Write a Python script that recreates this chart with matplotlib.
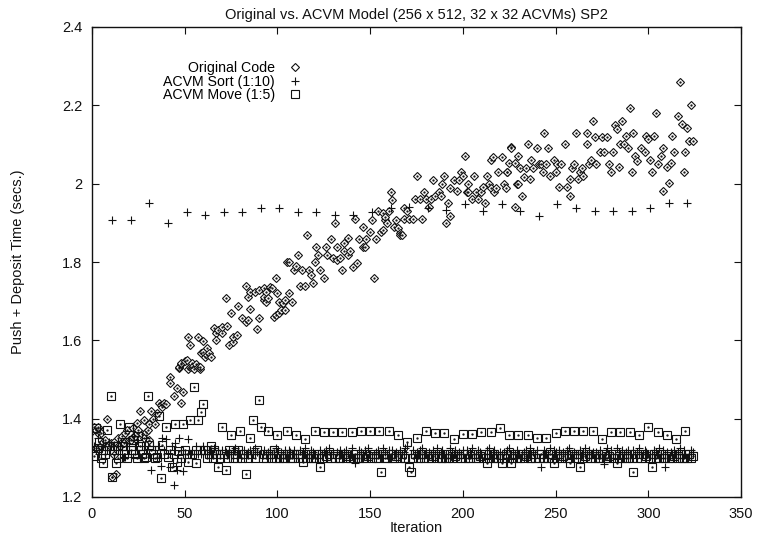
import matplotlib
matplotlib.use('Agg')
import matplotlib.pyplot as plt

plt.rcParams['font.family'] = ['Liberation Sans', 'DejaVu Sans']

title = "Original vs. ACVM Model (256 x 512, 32 x 32 ACVMs) SP2"
x_label = "Iteration"
y_label = "Push + Deposit Time (secs.)"
series_names = ["Original Code", "ACVM Sort (1:10)", "ACVM Move (1:5)"]
x_ticks = [0, 50, 100, 150, 200, 250, 300, 350]
y_ticks = [1.2, 1.4, 1.6, 1.8, 2.0, 2.2, 2.4]
y_tick_labels = ["1.2", "1.4", "1.6", "1.8", "2", "2.2", "2.4"]

# Original code: (iteration, time)
orig_iter = [0, 1, 2, 2, 3, 3, 4, 5, 5, 6, 7, 8, 9, 10, 11, 12, 12, 13, 14, 15,
             16, 17, 18, 19, 20, 21, 22, 22, 23, 24, 24, 25, 26, 27, 28, 28, 29, 30, 31, 31,
             32, 33, 34, 35, 36, 37, 38, 39, 40,
             42, 42, 44, 46, 47, 47, 48, 48, 48, 49, 50, 51, 52, 52, 53, 53, 54, 54, 55, 56,
             57, 57, 58, 58, 59, 60, 60, 61, 62, 62, 63, 64,
             66, 67, 67, 68, 70, 70, 72, 73, 74, 75, 76, 76, 78, 79, 81, 83, 83, 84, 84, 85,
             85, 88, 89, 90, 90, 93, 93, 93, 94, 94, 95, 96, 97, 98, 99, 99, 100, 101, 101, 102,
             103, 104, 104, 105, 106, 106, 108, 109, 110, 111, 112, 113, 115, 116, 117, 118, 119, 120, 121, 122,
             123, 125, 126, 127, 129, 130, 131,
             132, 132, 134, 135, 136, 136, 138, 138, 139, 141, 142, 143, 144, 146, 146, 147, 148, 150, 151, 152,
             153, 154, 156, 157, 157, 158, 158, 159, 160,
             161, 162, 163, 164, 165, 166, 166, 167, 168, 168, 170, 171, 173, 174, 175, 177, 178, 179, 180, 182,
             183, 184, 185, 187, 188, 189, 190, 191, 192, 193, 193, 195, 197, 198, 199, 200,
             201, 202, 203, 203, 205, 206, 207, 208, 210, 211, 212, 213, 214, 215, 215, 216, 217, 218, 219, 221,
             222, 223, 224, 224, 225, 226, 226, 228, 228, 229, 230, 230,
             231, 232, 233, 234, 235, 236, 237, 238, 240, 241, 242, 243, 244, 245, 246, 247, 249, 250, 251, 252,
             253, 255, 256, 258, 258, 259, 260,
             261, 262, 263, 264, 265, 267, 267, 268, 269, 270, 271, 272, 274, 275, 276, 278, 279, 280, 281, 282,
             283, 284, 285, 286, 287, 288, 289,
             290, 291, 292, 293, 294, 296, 298, 299, 300, 301, 302, 303, 304, 305, 307, 308, 308, 310, 311, 312,
             313, 314, 316, 317, 318, 319, 320, 321, 322, 323, 324]
orig_time = [1.369, 1.38, 1.37, 1.324, 1.375, 1.38, 1.36, 1.363, 1.33, 1.34,
             1.346, 1.398, 1.333, 1.337, 1.252, 1.341, 1.307, 1.26, 1.35, 1.329,
             1.356, 1.337, 1.363, 1.371, 1.346, 1.345, 1.377, 1.354, 1.355, 1.363,
             1.39, 1.371, 1.42, 1.36, 1.397, 1.35, 1.365, 1.37, 1.386, 1.346,
             1.42, 1.40, 1.386, 1.415, 1.439, 1.435, 1.429, 1.44, 1.437,
             1.507, 1.49, 1.459, 1.479, 1.529, 1.533, 1.439, 1.539, 1.541, 1.469,
             1.548, 1.55, 1.609, 1.527, 1.533, 1.588, 1.541, 1.533, 1.527, 1.539,
             1.533, 1.609, 1.527, 1.533, 1.567, 1.599, 1.569, 1.558, 1.563, 1.58,
             1.567, 1.558,
             1.631, 1.618, 1.601, 1.626, 1.618, 1.635, 1.707, 1.637, 1.588, 1.669,
             1.597, 1.609, 1.614, 1.688, 1.656, 1.648, 1.739, 1.652, 1.711, 1.679,
             1.724, 1.724, 1.628, 1.656, 1.728, 1.733, 1.703, 1.711, 1.724, 1.699,
             1.707, 1.737, 1.733, 1.66, 1.758, 1.665, 1.72, 1.669, 1.699, 1.677,
             1.695, 1.677, 1.703, 1.801, 1.72, 1.801, 1.699, 1.78, 1.79, 1.818,
             1.739, 1.78, 1.739, 1.869, 1.78, 1.767, 1.747, 1.801, 1.839, 1.818,
             1.78, 1.758, 1.839, 1.818, 1.858, 1.81, 1.899,
             1.805, 1.838, 1.81, 1.78, 1.829, 1.848, 1.861, 1.818, 1.829, 1.788,
             1.909, 1.798, 1.858, 1.839, 1.889, 1.838, 1.858, 1.877, 1.907, 1.758,
             1.858, 1.929, 1.877, 1.924, 1.882, 1.906, 1.916, 1.899, 1.929,
             1.98, 1.958, 1.89, 1.907, 1.886, 1.873, 1.869, 1.869, 1.937, 1.909,
             1.929, 1.911, 1.911, 1.96, 2.02, 1.96, 1.909, 1.98, 1.96, 1.941,
             1.96, 2.009, 1.968, 1.98, 1.968, 1.999, 2.02, 1.899, 1.95, 1.918,
             1.988, 2.009, 1.982, 2.009, 2.03, 2.02,
             2.071, 1.98, 1.999, 1.98, 1.96, 2.02, 1.98, 1.96, 1.98, 1.992,
             1.95, 2.02, 1.999, 1.988, 2.06, 2.069, 1.98, 1.988, 2.03, 2.069,
             1.999, 1.988, 2.03, 2.031, 2.052, 2.093, 2.09, 1.94, 2.052, 1.999,
             1.999, 2.071,
             2.039, 1.969, 2.018, 2.039, 2.101, 2.011, 2.061, 2.039, 2.09, 2.05,
             2.05, 2.031, 2.13, 2.05, 2.09, 2.02, 2.061, 2.031, 2.05, 1.991,
             2.05, 2.101, 1.991, 1.969, 2.011, 2.039, 2.05,
             2.13, 2.011, 2.031, 2.039, 2.02, 2.13, 2.101, 2.05, 2.061, 2.161,
             2.12, 2.05, 2.082, 2.12, 2.082, 2.12, 2.05, 2.031, 2.082, 2.15,
             2.139, 2.042, 2.101, 2.161, 2.101, 2.122, 2.09,
             2.192, 2.031, 2.13, 2.071, 2.059, 2.09, 2.082, 2.122, 2.113, 2.06,
             2.031, 2.122, 2.181, 2.05, 2.071, 2.09, 1.982, 2.042, 2.001, 2.052,
             2.122, 2.082, 2.173, 2.26, 2.152, 2.031, 2.082, 2.141, 2.11, 2.2,
             2.11]

# ACVM Sort (1:10): one value per iteration 1..324 (sort every 10th iteration)
sort_time = [1.33, 1.32, 1.35, 1.31, 1.32, 1.33, 1.31, 1.32, 1.34, 1.33,
             1.907, 1.33, 1.32, 1.34, 1.33, 1.32, 1.303, 1.303, 1.33, 1.32,
             1.907, 1.303, 1.33, 1.32, 1.34, 1.303, 1.33, 1.32, 1.35, 1.33,
             1.95, 1.269, 1.33, 1.32, 1.299, 1.33, 1.278, 1.35, 1.32, 1.347,
             1.90, 1.277, 1.33, 1.231, 1.339, 1.269, 1.35, 1.32, 1.267, 1.31,
             1.928, 1.347, 1.31, 1.32, 1.31, 1.33, 1.31, 1.32, 1.31, 1.33,
             1.92, 1.31, 1.32, 1.315, 1.31, 1.325, 1.31, 1.32, 1.31, 1.32,
             1.928, 1.315, 1.31, 1.32, 1.31, 1.315, 1.325, 1.31, 1.32, 1.31,
             1.928, 1.32, 1.31, 1.315, 1.32, 1.31, 1.31, 1.325, 1.315, 1.31,
             1.938, 1.31, 1.32, 1.31, 1.315, 1.32, 1.31, 1.31, 1.325, 1.315,
             1.938, 1.315, 1.31, 1.32, 1.31, 1.32, 1.315, 1.31, 1.32, 1.31,
             1.928, 1.32, 1.31, 1.315, 1.325, 1.31, 1.31, 1.32, 1.315, 1.31,
             1.928, 1.31, 1.32, 1.31, 1.315, 1.32, 1.31, 1.325, 1.31, 1.315,
             1.92, 1.315, 1.31, 1.32, 1.31, 1.315, 1.32, 1.31, 1.31, 1.325,
             1.92, 1.288, 1.31, 1.32, 1.315, 1.31, 1.32, 1.31, 1.325, 1.31,
             1.928, 1.31, 1.315, 1.32, 1.31, 1.31, 1.325, 1.315, 1.31, 1.32,
             1.938, 1.32, 1.31, 1.315, 1.31, 1.32, 1.31, 1.315, 1.325, 1.33,
             1.94, 1.31, 1.32, 1.31, 1.315, 1.31, 1.32, 1.325, 1.31, 1.315,
             1.938, 1.315, 1.31, 1.32, 1.31, 1.325, 1.31, 1.315, 1.32, 1.31,
             1.933, 1.31, 1.325, 1.315, 1.31, 1.32, 1.31, 1.315, 1.31, 1.32,
             1.948, 1.32, 1.31, 1.315, 1.325, 1.31, 1.31, 1.32, 1.315, 1.31,
             1.93, 1.31, 1.32, 1.325, 1.31, 1.315, 1.32, 1.31, 1.31, 1.315,
             1.948, 1.315, 1.31, 1.32, 1.325, 1.31, 1.315, 1.31, 1.32, 1.31,
             1.93, 1.31, 1.315, 1.32, 1.31, 1.325, 1.31, 1.315, 1.31, 1.32,
             1.917, 1.276, 1.31, 1.32, 1.315, 1.31, 1.325, 1.31, 1.32, 1.315,
             1.948, 1.32, 1.31, 1.315, 1.31, 1.32, 1.325, 1.31, 1.31, 1.315,
             1.938, 1.31, 1.32, 1.31, 1.315, 1.325, 1.31, 1.32, 1.31, 1.315,
             1.93, 1.315, 1.31, 1.32, 1.31, 1.284, 1.315, 1.325, 1.31, 1.32,
             1.93, 1.31, 1.325, 1.315, 1.31, 1.32, 1.31, 1.315, 1.32, 1.31,
             1.93, 1.32, 1.31, 1.315, 1.325, 1.31, 1.31, 1.32, 1.315, 1.31,
             1.938, 1.31, 1.32, 1.315, 1.31, 1.325, 1.31, 1.32, 1.276, 1.315,
             1.95, 1.315, 1.31, 1.32, 1.31, 1.315, 1.325, 1.31, 1.32, 1.31,
             1.95, 1.31, 1.32, 1.315]

# ACVM Move (1:5): one value per iteration 1..324
move_time = [1.305, 1.375, 1.324, 1.34, 1.30, 1.286, 1.31, 1.37, 1.33, 1.458,
             1.252, 1.32, 1.288, 1.30, 1.386, 1.33, 1.31, 1.34, 1.30, 1.38,
             1.32, 1.346, 1.31, 1.30, 1.356, 1.33, 1.31, 1.299, 1.303, 1.458,
             1.333, 1.32, 1.31, 1.30, 1.303, 1.408, 1.248, 1.333, 1.31, 1.378,
             1.301, 1.32, 1.276, 1.31, 1.386, 1.29, 1.318, 1.30, 1.386, 1.32,
             1.31, 1.29, 1.397, 1.31, 1.48, 1.288, 1.397, 1.32, 1.418, 1.437,
             1.32, 1.30, 1.31, 1.33, 1.30, 1.32, 1.31, 1.277, 1.30, 1.378,
             1.31, 1.269, 1.30, 1.32, 1.358, 1.30, 1.31, 1.30, 1.32, 1.369,
             1.30, 1.31, 1.258, 1.30, 1.35, 1.31, 1.397, 1.30, 1.32, 1.448,
             1.378, 1.30, 1.31, 1.30, 1.369, 1.31, 1.30, 1.32, 1.30, 1.358,
             1.30, 1.31, 1.30, 1.30, 1.369, 1.31, 1.30, 1.30, 1.31, 1.358,
             1.30, 1.31, 1.30, 1.29, 1.347, 1.30, 1.31, 1.30, 1.30, 1.369,
             1.30, 1.31, 1.277, 1.30, 1.367, 1.305, 1.30, 1.31, 1.30, 1.367,
             1.30, 1.31, 1.30, 1.30, 1.367, 1.31, 1.30, 1.305, 1.30, 1.367,
             1.30, 1.31, 1.30, 1.30, 1.369, 1.30, 1.31, 1.30, 1.305, 1.369,
             1.30, 1.31, 1.30, 1.30, 1.369, 1.265, 1.31, 1.30, 1.30, 1.369,
             1.31, 1.30, 1.30, 1.305, 1.358, 1.30, 1.31, 1.30, 1.30, 1.341,
             1.277, 1.265, 1.30, 1.31, 1.35, 1.30, 1.30, 1.31, 1.30, 1.369,
             1.30, 1.31, 1.30, 1.305, 1.363, 1.30, 1.31, 1.30, 1.30, 1.363,
             1.30, 1.30, 1.31, 1.30, 1.347, 1.305, 1.30, 1.31, 1.30, 1.361,
             1.30, 1.31, 1.30, 1.30, 1.361, 1.31, 1.30, 1.30, 1.305, 1.367,
             1.30, 1.31, 1.286, 1.30, 1.367, 1.30, 1.31, 1.30, 1.30, 1.375,
             1.286, 1.30, 1.31, 1.30, 1.358, 1.286, 1.30, 1.31, 1.30, 1.358,
             1.30, 1.31, 1.30, 1.305, 1.358, 1.30, 1.30, 1.31, 1.30, 1.35,
             1.30, 1.31, 1.30, 1.30, 1.35, 1.30, 1.31, 1.30, 1.286, 1.364,
             1.30, 1.31, 1.30, 1.305, 1.369, 1.30, 1.30, 1.286, 1.31, 1.369,
             1.30, 1.31, 1.277, 1.30, 1.369, 1.305, 1.30, 1.31, 1.30, 1.369,
             1.30, 1.31, 1.30, 1.30, 1.347, 1.31, 1.30, 1.30, 1.305, 1.367,
             1.30, 1.31, 1.286, 1.30, 1.367, 1.30, 1.31, 1.30, 1.30, 1.367,
             1.30, 1.265, 1.31, 1.30, 1.358, 1.30, 1.31, 1.30, 1.305, 1.378,
             1.30, 1.277, 1.31, 1.30, 1.367, 1.30, 1.31, 1.30, 1.30, 1.358,
             1.30, 1.31, 1.30, 1.305, 1.347, 1.30, 1.31, 1.30, 1.30, 1.369,
             1.30, 1.31, 1.30, 1.305]

sort_iter = list(range(1, len(sort_time) + 1))
move_iter = list(range(1, len(move_time) + 1))

fig = plt.figure(figsize=(7.57, 5.41), dpi=100)
ax = fig.add_axes([92 / 757, 1 - 497 / 541, (741 - 92) / 757, (497 - 27) / 541])

ink = '#111111'
h1, = ax.plot(orig_iter, orig_time, linestyle='none', marker='D', markersize=3.8,
              markerfacecolor='white', markeredgecolor=ink, markeredgewidth=0.8,
              label=series_names[0])
h2, = ax.plot(sort_iter, sort_time, linestyle='none', marker='+', markersize=5.4,
              markeredgecolor=ink, markeredgewidth=0.8, label=series_names[1])
h3, = ax.plot(move_iter, move_time, linestyle='none', marker='s', markersize=5.4,
              markerfacecolor='none', markeredgecolor=ink, markeredgewidth=0.8,
              label=series_names[2])
# centre dots of the gnuplot-style point symbols
ax.plot(orig_iter, orig_time, linestyle='none', marker='.', markersize=1.3, color=ink)
ax.plot(move_iter, move_time, linestyle='none', marker='.', markersize=1.3, color=ink)

ax.set_xlim(0, 350)
ax.set_ylim(1.2, 2.4)
ax.set_xticks(x_ticks)
ax.set_yticks(y_ticks)
ax.set_yticklabels(y_tick_labels)
ax.tick_params(direction='in', length=5, width=0.8, top=True, right=True,
               labelsize=10.5, pad=7, colors=ink)
for s in ax.spines.values():
    s.set_linewidth(1.0)
    s.set_color(ink)

ax.set_title(title, fontsize=10.5, pad=6, color=ink)
ax.set_xlabel(x_label, fontsize=10.5, color=ink)
ax.set_ylabel(y_label, fontsize=10.5, color=ink)
ax.xaxis.set_label_coords(0.5, -0.051)
ax.yaxis.set_label_coords(-0.103, 0.5)

leg = ax.legend(handles=[h1, h2, h3], loc='upper right',
                bbox_to_anchor=((302 - 92) / 649, (497 - 61) / 470),
                frameon=False, markerfirst=False, fontsize=10.2,
                handlelength=1.0, handletextpad=0.9, labelspacing=-0.02,
                borderpad=0, borderaxespad=0)

fig.savefig('out.png', dpi=100)
